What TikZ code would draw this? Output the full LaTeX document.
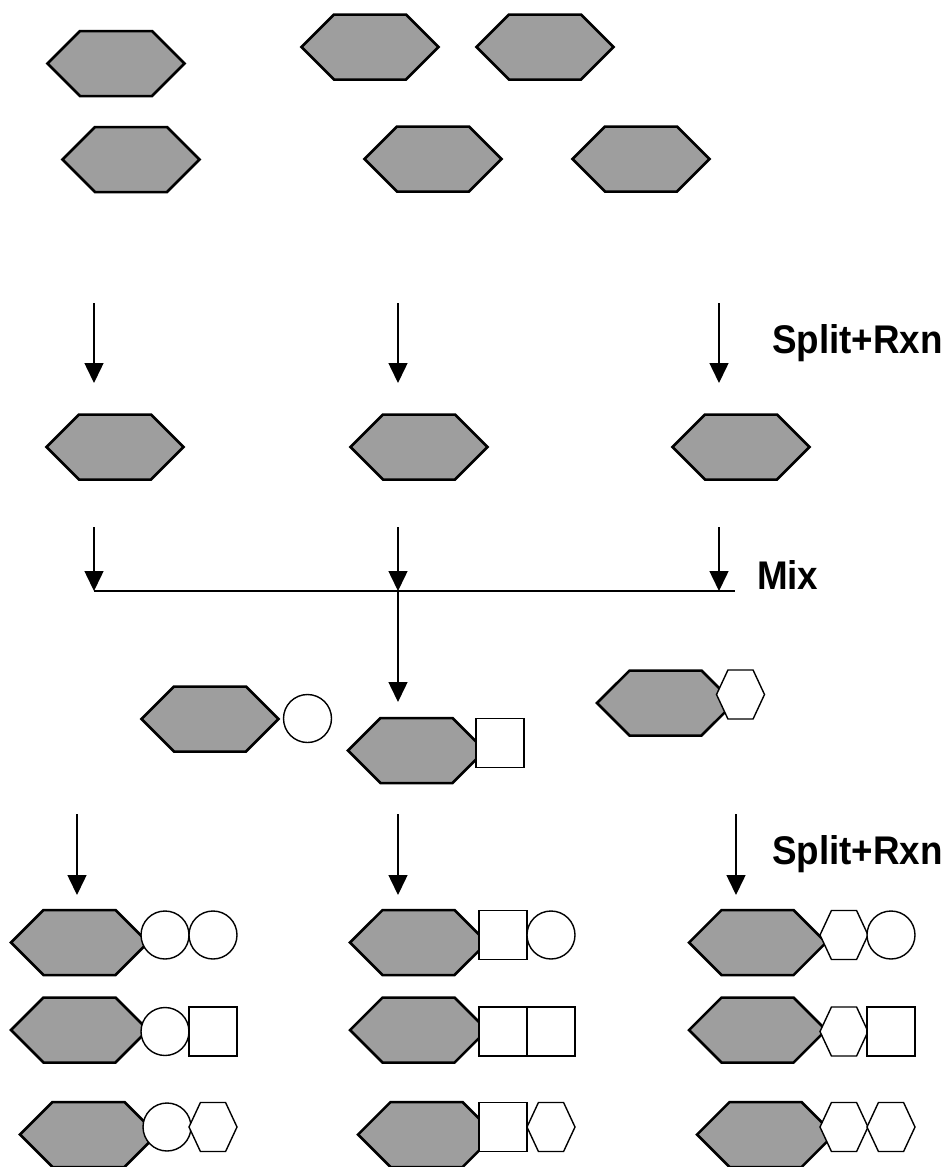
\documentclass[tikz,border=0pt]{standalone}
\usepackage{fontspec}
\newfontfamily\stepfont[FakeStretch=0.92]{Liberation Sans}
\usepackage{tikz}
\usetikzlibrary{shapes.symbols, shapes.geometric, arrows.meta, positioning}

\begin{document}
\begin{tikzpicture}[
  x=1pt, y=-1pt,
  every node/.style={inner sep=0pt, outer sep=0pt},
  bead/.style={shape=signal, signal to=east and west, signal pointer angle=90, draw=black, line width=2.5pt, fill=black!38, minimum width=137pt, minimum height=65pt},
  ring/.style={circle, draw=black, line width=1.4pt, fill=white, minimum size=48pt},
  block/.style={rectangle, draw=black, line width=1.4pt, fill=white, minimum width=48pt, minimum height=49pt},
  hexa/.style={shape=signal, signal to=east and west, signal pointer angle=130, draw=black, line width=1.4pt, fill=white, minimum width=48pt, minimum height=49pt},
  steplabel/.style={anchor=base west, font=\stepfont\bfseries\fontsize{40}{46}\selectfont},
  arrow/.style={-{Triangle[length=20pt,width=19pt]}, line width=1.5pt}
]
\useasboundingbox (0,0) rectangle (945,1167);

% Starting beads
\node[bead] (b1) at (116,63.5) {};
\node[bead] (b2) at (370,47) {};
\node[bead] (b3) at (545,47) {};
\node[bead] (b4) at (131,159.5) {};
\node[bead] (b5) at (433,159) {};
\node[bead] (b6) at (641,159) {};

% First split
\coordinate (s1a) at (94,303);  \coordinate (s1b) at (94,383);
\coordinate (s2a) at (398,303); \coordinate (s2b) at (398,383);
\coordinate (s3a) at (719,303); \coordinate (s3b) at (719,383);
\draw[arrow] (s1a) -- (s1b);
\draw[arrow] (s2a) -- (s2b);
\draw[arrow] (s3a) -- (s3b);
\node[steplabel] (split1) at (772,353) {Split+Rxn};

% Split portions
\node[bead] (p1) at (115,447) {};
\node[bead] (p2) at (419,447) {};
\node[bead] (p3) at (741,447) {};

% Mixing
\coordinate (m1a) at (94,527);  \coordinate (m1b) at (94,591);
\coordinate (m2a) at (398,527); \coordinate (m2b) at (398,591);
\coordinate (m3a) at (719,527); \coordinate (m3b) at (719,591);
\coordinate (mend) at (735,591);
\draw[arrow] (m1a) -- (m1b);
\draw[arrow] (m2a) -- (m2b);
\draw[arrow] (m3a) -- (m3b);
\draw[line width=1.8pt] (m1b) -- (mend);
\node[steplabel] (mix) at (757,589) {Mix};
\coordinate (mdown) at (398,702);
\draw[arrow] (m2b) -- (mdown);

% Mixed pool after first step
\node[bead] (q1) at (210,719) {};
\node[ring] (q1x) at (307.5,718.5) {};
\node[bead] (q2) at (416.5,750.5) {};
\node[block] (q2x) at (500,743) {};
\node[bead] (q3) at (665.5,703) {};
\node[hexa] (q3x) at (740.5,694.5) {};

% Second split
\coordinate (t1a) at (77,814);  \coordinate (t1b) at (77,895);
\coordinate (t2a) at (398,814); \coordinate (t2b) at (398,895);
\coordinate (t3a) at (736,814); \coordinate (t3b) at (736,895);
\draw[arrow] (t1a) -- (t1b);
\draw[arrow] (t2a) -- (t2b);
\draw[arrow] (t3a) -- (t3b);
\node[steplabel] (split2) at (772,864) {Split+Rxn};

% Products, first row
\node[bead] (r11) at (79.5,942.5) {};
\node[ring] (r11a) at (165,935) {};
\node[ring] (r11b) at (213,935) {};
\node[bead] (r12) at (418.5,942.5) {};
\node[block] (r12a) at (503,935) {};
\node[ring] (r12b) at (551,935) {};
\node[bead] (r13) at (757.5,942.5) {};
\node[hexa] (r13a) at (844,935) {};
\node[ring] (r13b) at (891,935) {};

% Products, second row
\node[bead] (r21) at (79.5,1030) {};
\node[ring] (r21a) at (165,1031.5) {};
\node[block] (r21b) at (213,1031.5) {};
\node[bead] (r22) at (418.5,1030) {};
\node[block] (r22a) at (503,1031.5) {};
\node[block] (r22b) at (551,1031.5) {};
\node[bead] (r23) at (757.5,1030) {};
\node[hexa] (r23a) at (844,1031.5) {};
\node[block] (r23b) at (891,1031.5) {};

% Products, third row
\node[bead] (r31) at (88.5,1134.5) {};
\node[ring] (r31a) at (167,1127) {};
\node[hexa] (r31b) at (213,1127) {};
\node[bead] (r32) at (426.5,1134.5) {};
\node[block] (r32a) at (503,1127) {};
\node[hexa] (r32b) at (551,1127) {};
\node[bead] (r33) at (765.5,1134.5) {};
\node[hexa] (r33a) at (844,1127) {};
\node[hexa] (r33b) at (891,1127) {};

\end{tikzpicture}
\end{document}
